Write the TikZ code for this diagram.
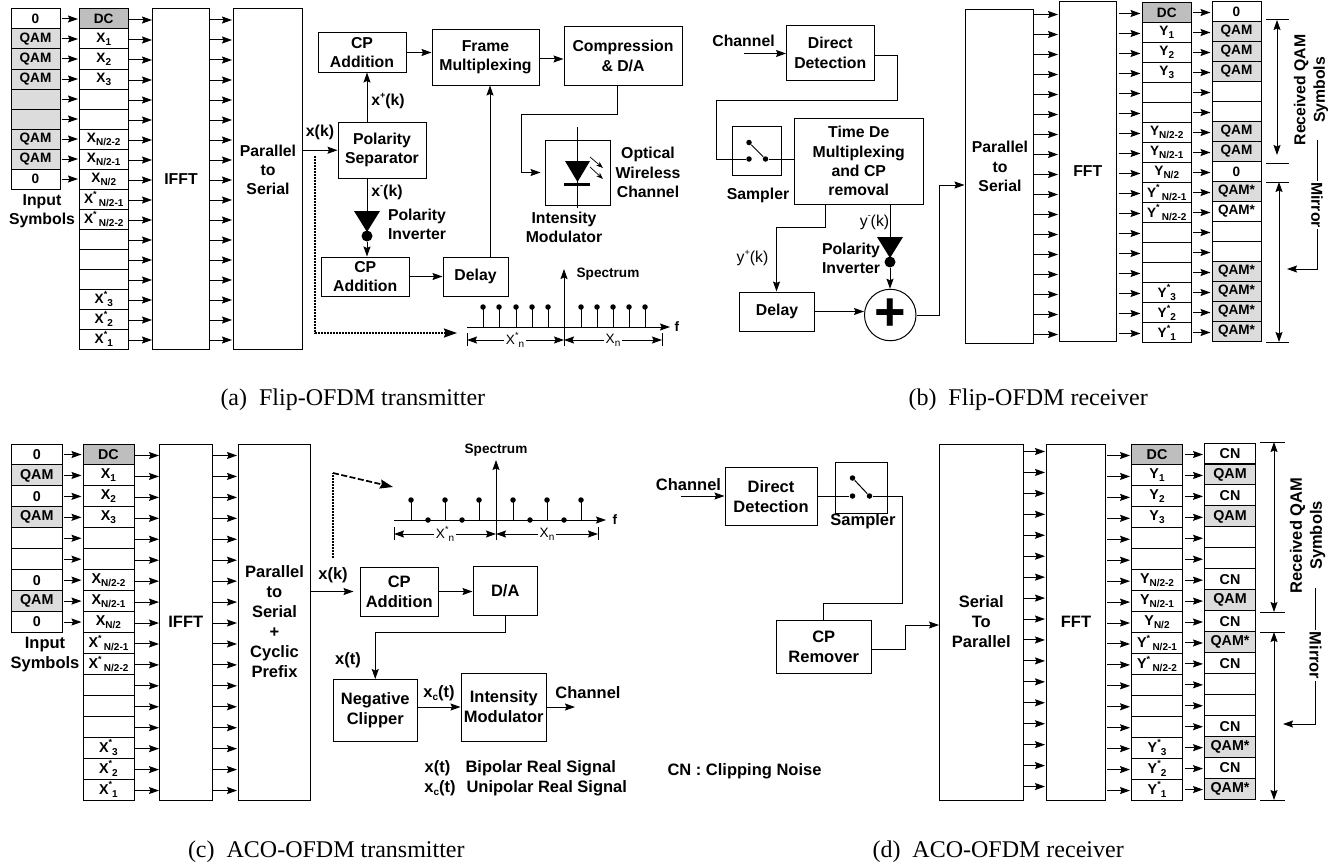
\documentclass[tikz,border=0pt]{standalone}
\usepackage{fontspec}
\setmainfont{Liberation Sans}
\newfontfamily\capfont{Liberation Serif}
\usetikzlibrary{arrows.meta,positioning,calc}
\definecolor{qamgray}{RGB}{220,220,220}
\definecolor{dcgray}{RGB}{190,190,190}
\newcommand{\lblfont}{\fontsize{15.8}{19.3}\selectfont\bfseries}
\newcommand{\lblfontb}{\fontsize{16.5}{20}\selectfont\bfseries}
\newcommand{\cellfont}{\fontsize{13.6}{16}\selectfont\bfseries}
\newcommand{\cellfontb}{\fontsize{14.3}{16}\selectfont\bfseries}
\newcommand{\finefont}{\fontsize{13.6}{16}\selectfont}
\newcommand{\subt}[1]{\raisebox{-.22em}{\fontsize{10}{10}\selectfont #1}}
\newcommand{\supt}[1][*]{\raisebox{.45em}{\fontsize{9}{9}\selectfont #1}}
\def\xrows{0/dc/DC,1/cell/{X\subt{1}},2/cell/{X\subt{2}},3/cell/{X\subt{3}},4/cell/{},5/cell/{},
  6/cell/{X\subt{N/2-2}},7/cell/{X\subt{N/2-1}},8/cell/{X\subt{N/2}},
  9/cell/{X\supt\,\subt{N/2-1}},10/cell/{X\supt\,\subt{N/2-2}},11/cell/{},12/cell/{},13/cell/{},
  14/cell/{X\supt\subt{3}},15/cell/{X\supt\subt{2}},16/cell/{X\supt\subt{1}}}
\def\yrows{0/dc/DC,1/cell/{Y\subt{1}},2/cell/{Y\subt{2}},3/cell/{Y\subt{3}},4/cell/{},5/cell/{},
  6/cell/{Y\subt{N/2-2}},7/cell/{Y\subt{N/2-1}},8/cell/{Y\subt{N/2}},
  9/cell/{Y\supt\,\subt{N/2-1}},10/cell/{Y\supt\,\subt{N/2-2}},11/cell/{},12/cell/{},13/cell/{},
  14/cell/{Y\supt\subt{3}},15/cell/{Y\supt\subt{2}},16/cell/{Y\supt\subt{1}}}
\begin{document}
\begin{tikzpicture}[x=1pt, y=-1pt, >={Stealth[length=10pt,width=7pt,inset=1.5pt]}, line width=1pt,
  box/.style={draw, inner sep=0pt, align=center, font=\lblfont},
  txt/.style={inner sep=0pt, align=center, font=\lblfont},
  fine/.style={inner sep=0pt, align=center, font=\lblfont\mdseries},
  tiny/.style={fill=white, inner sep=1pt, font=\finefont},
  spec/.style={inner sep=0pt, font=\cellfont},
  cell/.style={draw, minimum width=49pt, minimum height=20pt, inner sep=0pt, font=\cellfont},
  qam/.style={cell, fill=qamgray},
  dc/.style={cell, fill=dcgray},
  dotmark/.style={circle, fill, inner sep=0pt, minimum size=5.5pt},
  invdot/.style={circle, fill, inner sep=0pt, minimum size=11pt},
  link/.style={shorten >=1pt},
  densedot/.style={line width=1.7pt, dash pattern=on 2pt off 1pt},
  coarsedot/.style={line width=1.7pt, dash pattern=on 6pt off 2.5pt},
  bigtip/.style={-{Stealth[length=13pt,width=9pt,inset=1.5pt]}},
  caption/.style={anchor=west, inner sep=0pt, font=\capfont\fontsize{24}{26}\selectfont}]
\useasboundingbox (0,0) rectangle (1343,867);

\foreach \i/\sty/\txt in {0/cell/0,1/qam/QAM,2/qam/QAM,3/qam/QAM,4/qam/{},5/qam/{},6/qam/QAM,7/qam/QAM,8/cell/0}
  \node[\sty] (inA\i) at (35.5,{19+20*\i}) {\txt};
\foreach \i/\sty/\txt in \xrows
  \node[\sty, minimum width=48.5pt] (xA\i) at (103.75,{19+20*\i}) {\txt};
\node[box, minimum width=57pt, minimum height=340pt] (ifftA) at (181,179) {IFFT};
\node[box, minimum width=68.5pt, minimum height=340pt] (pssA) at (267.75,179) {};
\node[txt] (pssAtxt) at (268,170) {Parallel\\to\\Serial};
\node[txt] (inAtxt) at (42,211.5) {Input\\Symbols};
\foreach \i in {0,...,8}
  \draw[->, link] ([xshift=1pt]inA\i.east) -- (inA\i.east -| xA\i.west);
\foreach \i in {0,...,16} {
  \draw[->] ([yshift=-1pt]xA\i.east) -- ([yshift=-1pt]xA\i.east -| ifftA.west);
  \draw[->, link] ([yshift=-1pt]xA\i.east -| ifftA.east) -- ([yshift=-1pt]xA\i.east -| pssA.west);
}
\node[box, minimum width=88pt, minimum height=55.5pt] (polA) at (382,150.25) {Polarity\\Separator};
\node[box, minimum width=88pt, minimum height=39pt] (cpuA) at (362,52.5) {CP\\Addition};
\node[box, minimum width=107pt, minimum height=55pt] (frameA) at (485.5,57.5) {Frame\\Multiplexing};
\node[box, minimum width=118pt, minimum height=58pt] (compA) at (623,56) {Compression\\\& D/A};
\node[box, minimum width=65pt, minimum height=65pt] (modA) at (577.5,172.5) {};
\node[box, minimum width=87.5pt, minimum height=39pt] (cplA) at (365.25,276.5) {CP\\Addition};
\node[box, minimum width=65pt, minimum height=39pt] (delayA) at (475.5,276.5) {Delay};
\node[txt] (xkA) at (320,132) {x(k)};
\node[txt] (xpA) at (388,101) {x\supt[+](k)};
\node[txt] (xmA) at (387,192) {x\supt[-](k)};
\node[txt] (invAtxt) at (417,224.5) {Polarity\\Inverter};
\node[txt] (optAtxt) at (648,172.5) {Optical\\Wireless\\Channel};
\node[txt] (imAtxt) at (564,227.5) {Intensity\\Modulator};
\draw[->] (pssA.east |- polA.west) -- (polA.west);
\draw[->] ([xshift=-15pt]polA.north) -- ([xshift=-15pt]polA.north |- cpuA.south);
\draw[->] (cpuA.east) -- (cpuA.east -| frameA.west);
\draw[->] ([yshift=-1.5pt]frameA.east) -- ([yshift=-1.5pt]frameA.east -| compA.west);
\coordinate (bendAa) at (521.5,114);
\draw[->, shorten >=4pt] ([xshift=-6pt]compA.south) |- (bendAa) |- (modA.west);
\draw[->] (cplA.east) -- (cplA.east -| delayA.west);
\draw[->] ([xshift=14.5pt]delayA.north) -- ([xshift=14.5pt]delayA.north |- frameA.south);
\coordinate (diodeAtop) at (577.5,127);
\coordinate (diodeAbot) at (577.5,208);
\draw (diodeAtop) -- (diodeAbot);
\fill (565,161) -- (590,161) -- (577.5,182) -- cycle;
\fill (564,183) rectangle (590,186);
\draw[-{Stealth[length=7pt,width=5pt]}, line width=.7pt] (590,157) -- (603,168);
\draw[-{Stealth[length=7pt,width=5pt]}, line width=.7pt] (590,167) -- (603,179);
\node[invdot] (invAdot) at (367,236) {};
\draw ([xshift=-15pt]polA.south) -- (367,211);
\fill (354,211) -- (380,211) -- (367,232) -- cycle;
\draw[->] (invAdot.south) -- (invAdot.south |- cplA.north);
\coordinate (dotAa) at (315,156);
\coordinate (dotAb) at (457,333);
\draw[densedot, bigtip] (dotAa) |- (dotAb);
\coordinate (axAl) at (467,327);
\coordinate (axAc) at (564,327);
\coordinate (axAr) at (670,327);
\coordinate (axAt) at (564,269);
\draw[->] (axAl) -- (axAr);
\draw[->] (axAc) -- (axAt);
\foreach \x in {483,499,516,532,548,581,597,613,629,645}
  \draw (\x,327) -- (\x,307) node[dotmark] {};
\node[spec] (specAtxt) at (608,274) {Spectrum};
\node[spec] (fA) at (677,327) {f};
\coordinate (brAl) at (467,340);
\coordinate (brAm) at (564,340);
\coordinate (brAr) at (662,340);
\node[tiny] (xsA) at (515,340) {X\supt\subt{n}};
\node[tiny] (xnA) at (613,340) {X\subt{n}};
\draw[->] (xsA.west) -- (brAl);
\draw[->] (xsA.east) -- (brAm);
\draw[->] (xnA.west) -- (brAm);
\draw[->] (xnA.east) -- (brAr);
\draw ([yshift=7pt]brAl) -- ([yshift=-6pt]brAl);
\draw (axAc) -- ([yshift=-6pt]brAm);
\draw ([yshift=7pt]brAr) -- ([yshift=-6pt]brAr);
\node[caption] (capA) at (220,400) {(a)~~Flip-OFDM transmitter};

\node[box, minimum width=87.5pt, minimum height=54.5pt] (ddB) at (830.25,52.75) {Direct\\Detection};
\node[box, minimum width=49pt, minimum height=48.5pt] (samB) at (757,150.75) {};
\node[box, minimum width=128.5pt, minimum height=85.5pt] (tdmB) at (858.75,161.25) {Time De\\Multiplexing\\and CP\\removal};
\node[box, minimum width=75pt, minimum height=39pt] (delayB) at (777,311.5) {Delay};
\node[draw, circle, inner sep=0pt, minimum size=51.5pt, font=\fontsize{54}{54}\selectfont\bfseries] (plusB) at (890.25,315) {+};
\node[box, minimum width=68.5pt, minimum height=333.5pt] (pssB) at (999.25,176.25) {};
\node[txt] (pssBtxt) at (1000,166.5) {Parallel\\to\\Serial};
\node[box, minimum width=56.5pt, minimum height=339.5pt] (fftB) at (1087.75,171.25) {FFT};
\foreach \i/\sty/\txt in \yrows
  \node[\sty, minimum width=49.5pt] (yB\i) at (1166.75,{12.5+20*\i}) {\txt};
\foreach \i/\sty/\txt in {0/cell/0,1/qam/QAM,2/qam/QAM,3/qam/QAM,4/cell/{},5/cell/{},6/qam/QAM,7/qam/QAM,8/cell/0,
  9/qam/QAM*,10/cell/QAM*,11/cell/{},12/cell/{},13/qam/QAM*,14/qam/QAM*,15/qam/QAM*,16/qam/QAM*}
  \node[\sty] (rB\i) at (1236.5,{11.5+20*\i}) {\txt};
\foreach \i in {0,...,16} {
  \draw[->, link] ([yshift=-2pt]yB\i.west -| pssB.east) -- ([yshift=-2pt]yB\i.west -| fftB.west);
  \draw[->, shorten >=1pt, shorten <=2pt] ([yshift=-1pt]yB\i.west -| fftB.east) -- ([yshift=-1pt]yB\i.west);
  \draw[->, shorten >=1pt, shorten <=1pt] (yB\i.east) -- (yB\i.east -| rB\i.west);
}
\node[txt] (chBtxt) at (743.5,41) {Channel};
\coordinate (chBin) at (744,53.5);
\draw[->] (chBin) -- (chBin -| ddB.west);
\node[txt] (samBtxt) at (758,195) {Sampler};
\node[fine] (ypB) at (752.5,258) {y\supt[+](k)};
\node[fine] (ymB) at (874.5,222) {y\supt[-](k)};
\node[txt] (invBtxt) at (851,258.5) {Polarity\\Inverter};
\coordinate (bendBa) at (897,100);
\coordinate (bendBb) at (716.5,159);
\node[dotmark] (swBa) at (749,142.5) {};
\node[dotmark] (swBb) at (749,159) {};
\node[dotmark] (swBc) at (765.5,159) {};
\draw ([yshift=-2.75pt]ddB.east) -| (bendBa) -| (bendBb) -- (swBb);
\draw (swBa) -- (swBc);
\draw (swBc) -- (swBc -| tdmB.west);
\coordinate (bendBc) at (776.5,227);
\draw[->] ([xshift=-33.25pt]tdmB.south) |- (bendBc) -- (bendBc |- delayB.north);
\node[invdot] (invBdot) at (890,262) {};
\draw ([xshift=31.25pt]tdmB.south) -- (890,237);
\fill (877,237) -- (903,237) -- (890,258) -- cycle;
\draw[->] (invBdot.south) -- (invBdot.south |- plusB.north);
\draw[->] (delayB.east) -- (delayB.east -| plusB.west);
\coordinate (bendBd) at (939,185);
\draw[->] (plusB.east) -| (bendBd) -- (bendBd -| pssB.west);
\coordinate (tickBa) at (1266,20);
\coordinate (tickBb) at (1266,163);
\coordinate (tickBc) at (1266,182);
\coordinate (tickBd) at (1266,342);
\foreach \t in {a,b,c,d}
  \draw (tickB\t) -- ++(23,0);
\draw[<->, shorten >=8pt] ([xshift=11pt]tickBa) -- ([xshift=11pt]tickBb);
\draw[<->] ([xshift=13pt]tickBc) -- ([xshift=13pt]tickBd);
\node[txt, rotate=90] (rqamB) at (1311,90) {Received QAM\\Symbols};
\node[txt, rotate=-90, inner sep=1pt] (mirB) at (1317,205) {Mirror};
\coordinate (mirBtop) at (1317,140);
\coordinate (mirBend) at (1287,269);
\draw (mirB.west) -- (mirBtop);
\draw[->] (mirB.east) |- (mirBend);
\node[caption] (capB) at (908,400) {(b)~~Flip-OFDM receiver};

\begin{scope}[box/.append style={font=\lblfontb}, txt/.append style={font=\lblfontb},
  cell/.append style={minimum height=20.94pt, minimum width=51pt, font=\cellfontb}]
\foreach \i/\sty/\txt in {0/cell/0,1/qam/QAM,2/cell/0,3/qam/QAM,4/cell/{},5/cell/{},6/cell/0,7/qam/QAM,8/cell/0}
  \node[\sty, minimum width=50.5pt] (inC\i) at (36.75,{454.5+20.94*\i}) {\txt};
\foreach \i/\sty/\txt in \xrows
  \node[\sty] (xC\i) at (108.5,{454.5+20.94*\i}) {\txt};
\node[box, minimum width=52.5pt, minimum height=356pt] (ifftC) at (185.75,622) {IFFT};
\node[box, minimum width=72pt, minimum height=356pt] (pssC) at (274.5,622) {Parallel\\to\\Serial\\+\\Cyclic\\Prefix};
\node[txt] (inCtxt) at (45,655) {Input\\Symbols};
\foreach \i in {0,...,8}
  \draw[->, link] ([xshift=1pt]inC\i.east) -- (inC\i.east -| xC\i.west);
\foreach \i in {0,...,16} {
  \draw[->] ([yshift=-1pt]xC\i.east) -- ([yshift=-1pt]xC\i.east -| ifftC.west);
  \draw[->, link] ([yshift=-1pt]xC\i.east -| ifftC.east) -- ([yshift=-1pt]xC\i.east -| pssC.west);
}
\node[box, minimum width=78.5pt, minimum height=49pt] (cpC) at (399.25,591.5) {CP\\Addition};
\node[box, minimum width=64.5pt, minimum height=48.5pt] (daC) at (505.25,590.75) {D/A};
\node[box, minimum width=84.5pt, minimum height=61.5pt] (clipC) at (375.25,710.25) {Negative\\Clipper};
\node[box, minimum width=85.5pt, minimum height=68pt] (imC) at (503.75,707) {Intensity\\Modulator};
\node[txt] (xkC) at (333,575) {x(k)};
\node[txt] (xtC) at (348,660) {x(t)};
\node[txt] (xcC) at (439,693) {x\subt{c}(t)};
\node[txt] (chC) at (588,693) {Channel};
\node[txt, anchor=west] (biC) at (465,768) {Bipolar Real Signal};
\node[txt, anchor=west] (uniC) at (466,788) {Unipolar Real Signal};
\node[txt] (xtlC) at (437.5,768) {x(t)};
\node[txt] (xclC) at (440,788) {x\subt{c}(t)};
\draw[->, shorten >=6pt] (pssC.east |- cpC.west) -- (cpC.west);
\draw[->] (cpC.east) -- (cpC.east -| daC.west);
\coordinate (bendCa) at (375.25,632);
\draw[->] (daC.south) |- (bendCa) -- (clipC.north);
\draw[->] ([yshift=3.25pt]clipC.east) -- ([yshift=3.25pt]clipC.east -| imC.west);
\coordinate (chCout) at (575,707);
\draw[->] (imC.east) -- (chCout);
\coordinate (dotCa) at (333,558);
\coordinate (dotCb) at (333,473);
\coordinate (dotCc) at (393,487);
\draw[densedot] (dotCa) -- (dotCb);
\draw[coarsedot, bigtip] (dotCb) -- (dotCc);
\coordinate (axCl) at (394,520);
\coordinate (axCc) at (496,520);
\coordinate (axCr) at (606,520);
\coordinate (axCt) at (496,460);
\draw[->] (axCl) -- (axCr);
\draw[->] (axCc) -- (axCt);
\foreach \x in {411,445,479,513,547,581}
  \draw (\x,520) -- (\x,500) node[dotmark] {};
\foreach \x in {428,462,530,564}
  \node[dotmark] at (\x,520) {};
\node[spec] (specCtxt) at (496,450) {Spectrum};
\node[spec] (fC) at (615,520) {f};
\coordinate (brCl) at (394,534);
\coordinate (brCm) at (496,534);
\coordinate (brCr) at (598,534);
\node[tiny] (xsC) at (445,534) {X\supt\subt{n}};
\node[tiny] (xnC) at (547,534) {X\subt{n}};
\draw[->] (xsC.west) -- (brCl);
\draw[->] (xsC.east) -- (brCm);
\draw[->] (xnC.west) -- (brCm);
\draw[->] (xnC.east) -- (brCr);
\draw ([yshift=7pt]brCl) -- ([yshift=-6pt]brCl);
\draw (axCc) -- ([yshift=-6pt]brCm);
\draw ([yshift=7pt]brCr) -- ([yshift=-6pt]brCr);
\node[caption] (capC) at (187.5,852) {(c)~~ACO-OFDM transmitter};

\node[box, minimum width=92pt, minimum height=57.5pt] (ddD) at (771,496.25) {Direct\\Detection};
\node[box, minimum width=51.5pt, minimum height=51pt] (samD) at (861.25,487.5) {};
\node[box, minimum width=95.5pt, minimum height=53pt] (cprD) at (823.75,646.5) {CP\\Remover};
\node[box, minimum width=83.5pt, minimum height=356pt] (s2pD) at (981.25,622) {Serial\\To\\Parallel};
\node[box, minimum width=59pt, minimum height=356pt] (fftD) at (1076,622) {FFT};
\foreach \i/\sty/\txt in \yrows
  \node[\sty] (yD\i) at (1157,{454.5+20.94*\i}) {\txt};
\foreach \i/\sty/\txt in {0/cell/CN,1/qam/QAM,2/cell/CN,3/qam/QAM,4/cell/{},5/cell/{},6/cell/CN,7/qam/QAM,8/cell/CN,
  9/qam/QAM*,10/cell/CN,11/cell/{},12/cell/{},13/cell/CN,14/qam/QAM*,15/cell/CN,16/qam/QAM*}
  \node[\sty] (rD\i) at (1230,{453.5+20.97*\i}) {\txt};
\foreach \i in {0,...,16} {
  \draw[->, link] ([yshift=3pt]yD\i.west -| s2pD.east) -- ([yshift=3pt]yD\i.west -| fftD.west);
  \draw[->, shorten >=1pt, shorten <=1pt] ([yshift=-1pt]yD\i.west -| fftD.east) -- ([yshift=-1pt]yD\i.west);
  \draw[->, shorten >=1pt, shorten <=2pt] (yD\i.east) -- (yD\i.east -| rD\i.west);
}
\node[txt] (chDtxt) at (688.5,485) {Channel};
\coordinate (chDin) at (681,496);
\draw[->] (chDin) -- (chDin -| ddD.west);
\node[txt] (samDtxt) at (863,521) {Sampler};
\node[txt, anchor=west] (cnD) at (667,771) {CN : Clipping Noise};
\node[dotmark] (swDa) at (852.5,478) {};
\node[dotmark] (swDb) at (852.5,496) {};
\node[dotmark] (swDc) at (869.5,496) {};
\draw (ddD.east |- swDb) -- (swDb);
\draw (swDa) -- (swDc);
\coordinate (bendDa) at (902,603);
\coordinate (bendDb) at (905.5,625);
\draw (swDc) -| (bendDa) -| (cprD.north);
\draw[->] ([yshift=-2.5pt]cprD.east) -| (bendDb) -- (bendDb -| s2pD.west);
\coordinate (tickDa) at (1260,442);
\coordinate (tickDb) at (1260,612);
\coordinate (tickDc) at (1260,632);
\coordinate (tickDd) at (1260,800);
\foreach \t in {a,b,c,d}
  \draw (tickD\t) -- ++(25,0);
\draw[<->] ([xshift=14pt]tickDa) -- ([xshift=14pt]tickDb);
\draw[<->] ([xshift=14pt]tickDc) -- ([xshift=14pt]tickDd);
\node[txt, rotate=90] (rqamD) at (1307.5,535.5) {Received QAM\\Symbols};
\node[txt, rotate=-90, inner sep=1pt] (mirD) at (1315.5,655.5) {Mirror};
\coordinate (mirDtop) at (1315.5,588);
\coordinate (mirDend) at (1283,724);
\draw (mirD.west) -- (mirDtop);
\draw[->] (mirD.east) |- (mirDend);
\node[caption] (capD) at (872,852) {(d)~~ACO-OFDM receiver};
\end{scope}
\end{tikzpicture}
\end{document}
